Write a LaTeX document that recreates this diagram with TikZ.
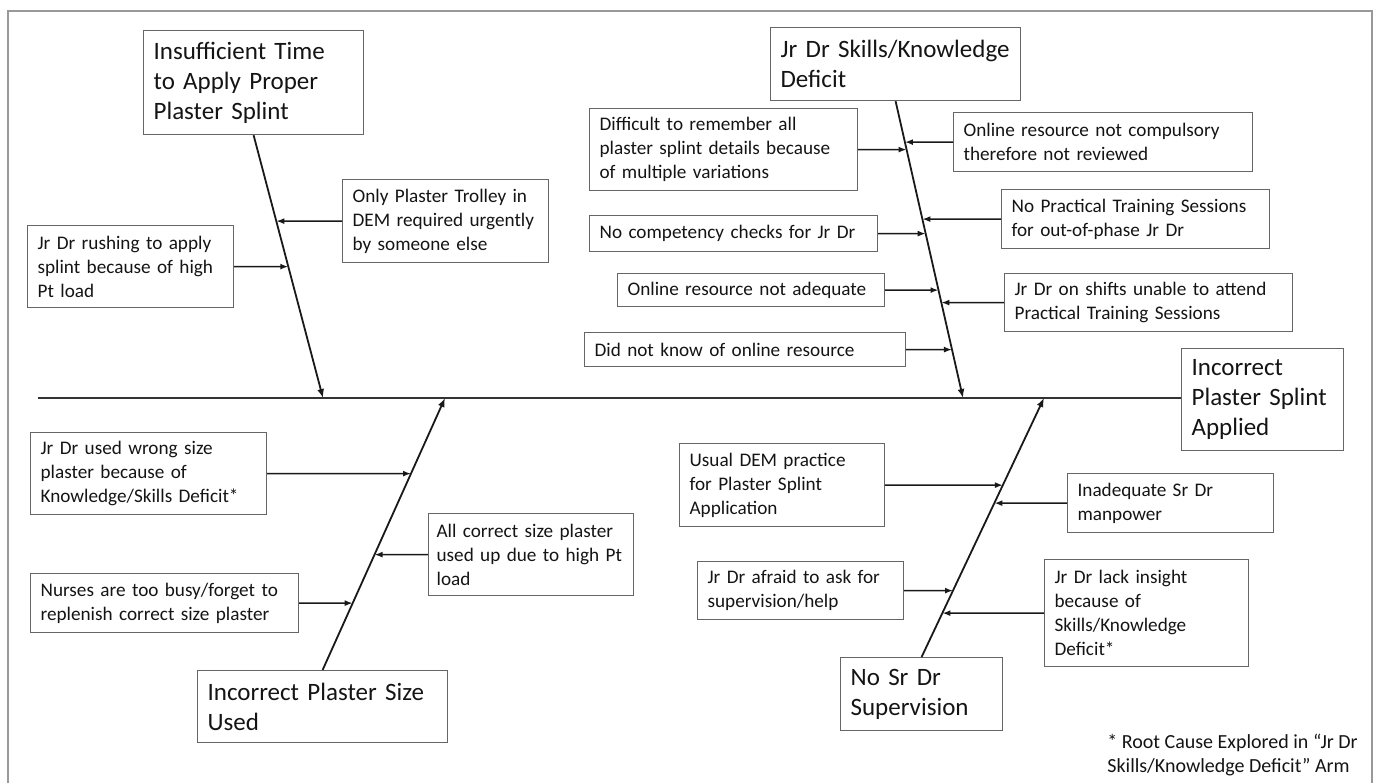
\documentclass[tikz,border=0pt]{standalone}
\usepackage{fontspec}
\setmainfont{Carlito}
\usetikzlibrary{arrows.meta}
\tikzset{
  cause/.style 2 args={draw=black!60, line width=0.6pt, text=black!92, anchor=north west,
    align=left, inner xsep=5pt, inner ysep=2pt, text width=#1, minimum height=#2,
    font=\fontsize{9.6}{12}\selectfont},
  category/.style 2 args={cause={#1}{#2}, font=\fontsize{12.5}{15}\selectfont},
  bone/.style={line width=0.9pt, black!90, -{Latex[length=4.5pt,width=3.5pt]}},
  arr/.style={line width=0.8pt, black!90, -{Latex[length=4pt,width=3pt]}}
}
\begin{document}
\begin{tikzpicture}[x=0.5pt,y=-0.5pt]
  \useasboundingbox (0,0) rectangle (1377,783);
  \draw[black!40, line width=0.6pt] (8,783) -- (8,11) -- (1372,11) -- (1372,783);
  \node[category={71pt}{51pt}] (effect) at (1181,348) {Incorrect\\Plaster Splint\\Applied};
  \coordinate (tail) at (38,398);
  \draw[line width=1pt, black!80] (tail) -- (tail -| effect.west);
  \coordinate (s1) at (323,398);
  \coordinate (s2) at (963,398);
  \coordinate (s3) at (445,398);
  \coordinate (s4) at (1044,398);

  \node[category={100pt}{52pt}] (time) at (143,30) {Insufficient Time\\to Apply Proper\\Plaster Splint};
  \node[category={115pt}{36.5pt}] (skills) at (770,27) {Jr Dr Skills/Knowledge\\Deficit};
  \node[category={115pt}{36pt}] (size) at (197,670) {Incorrect Plaster Size\\Used};
  \node[category={71pt}{36.5pt}] (sup) at (840,657) {No Sr Dr\\Supervision};
  \draw[bone] (time.south) -- (s1);
  \draw[bone] (skills.south) -- (s2);
  \draw[bone] (size.north) -- (s3);
  \draw[bone] (sup.north) -- (s4);

  \node[cause={93pt}{41.5pt}] (trolley) at (342,179) {Only Plaster Trolley in\\DEM required urgently\\by someone else};
  \node[cause={93pt}{41pt}] (rushing) at (27,225) {Jr Dr rushing to apply\\splint because of high\\Pt load};
  \draw[arr] (trolley.west) -- (intersection of trolley.west--trolley.east and time.south--s1);
  \draw[arr] (rushing.east) -- (intersection of rushing.west--rushing.east and time.south--s1);

  \node[cause={124pt}{41pt}] (remember) at (589,108) {Difficult to remember all\\plaster splint details because\\of multiple variations};
  \node[cause={139.5pt}{29.5pt}] (compulsory) at (953,112) {Online resource not compulsory\\therefore not reviewed};
  \node[cause={124pt}{29.5pt}] (practical) at (1001,189) {No Practical Training Sessions\\for out-of-phase Jr Dr};
  \node[cause={134pt}{18pt}] (checks) at (589,215) {No competency checks for Jr Dr};
  \node[cause={123.5pt}{16.5pt}] (adequate) at (617,273) {Online resource not adequate};
  \node[cause={134pt}{29pt}] (shifts) at (1004,273) {Jr Dr on shifts unable to attend\\Practical Training Sessions};
  \node[cause={150.5pt}{17pt}] (unaware) at (584,332) {Did not know of online resource};
  \draw[arr] (remember.east) -- (intersection of remember.west--remember.east and skills.south--s2);
  \draw[arr] (compulsory.west) -- (intersection of compulsory.west--compulsory.east and skills.south--s2);
  \draw[arr] (practical.west) -- (intersection of practical.west--practical.east and skills.south--s2);
  \draw[arr] (checks.east) -- (intersection of checks.west--checks.east and skills.south--s2);
  \draw[arr] (adequate.east) -- (intersection of adequate.west--adequate.east and skills.south--s2);
  \draw[arr] (shifts.west) -- (intersection of shifts.west--shifts.east and skills.south--s2);
  \draw[arr] (unaware.east) -- (intersection of unaware.west--unaware.east and skills.south--s2);

  \node[cause={108pt}{41pt}] (wrong) at (30,432) {Jr Dr used wrong size\\plaster because of\\Knowledge/Skills Deficit*};
  \node[cause={94.5pt}{41pt}, inner xsep=4pt] (usedup) at (428,513) {All correct size plaster\\used up due to high Pt\\load};
  \node[cause={124pt}{29.5pt}] (nurses) at (30,573) {Nurses are too busy/forget to\\replenish correct size plaster};
  \draw[arr] (wrong.east) -- (intersection of wrong.west--wrong.east and size.north--s3);
  \draw[arr] (usedup.west) -- (intersection of usedup.west--usedup.east and size.north--s3);
  \draw[arr] (nurses.east) -- (intersection of nurses.west--nurses.east and size.north--s3);

  \node[cause={92.5pt}{41.5pt}] (usual) at (679,443) {Usual DEM practice\\for Plaster Splint\\Application};
  \node[cause={93pt}{29.5pt}] (manpower) at (1067,473) {Inadequate Sr Dr\\manpower};
  \node[cause={93pt}{29pt}] (afraid) at (697,561) {Jr Dr afraid to ask for\\supervision/help};
  \node[cause={92pt}{53.5pt}] (insight) at (1044,559) {Jr Dr lack insight\\because of\\Skills/Knowledge\\Deficit*};
  \draw[arr] (usual.east) -- (intersection of usual.west--usual.east and sup.north--s4);
  \draw[arr] (manpower.west) -- (intersection of manpower.west--manpower.east and sup.north--s4);
  \draw[arr] (afraid.east) -- (intersection of afraid.west--afraid.east and sup.north--s4);
  \draw[arr] (insight.west) -- (intersection of insight.west--insight.east and sup.north--s4);

  \node[anchor=north west, align=left, inner sep=0pt, text=black!92, font=\fontsize{10}{12}\selectfont]
    (note) at (1107,734) {* Root Cause Explored in “Jr Dr\\Skills/Knowledge Deficit” Arm};
\end{tikzpicture}
\end{document}
